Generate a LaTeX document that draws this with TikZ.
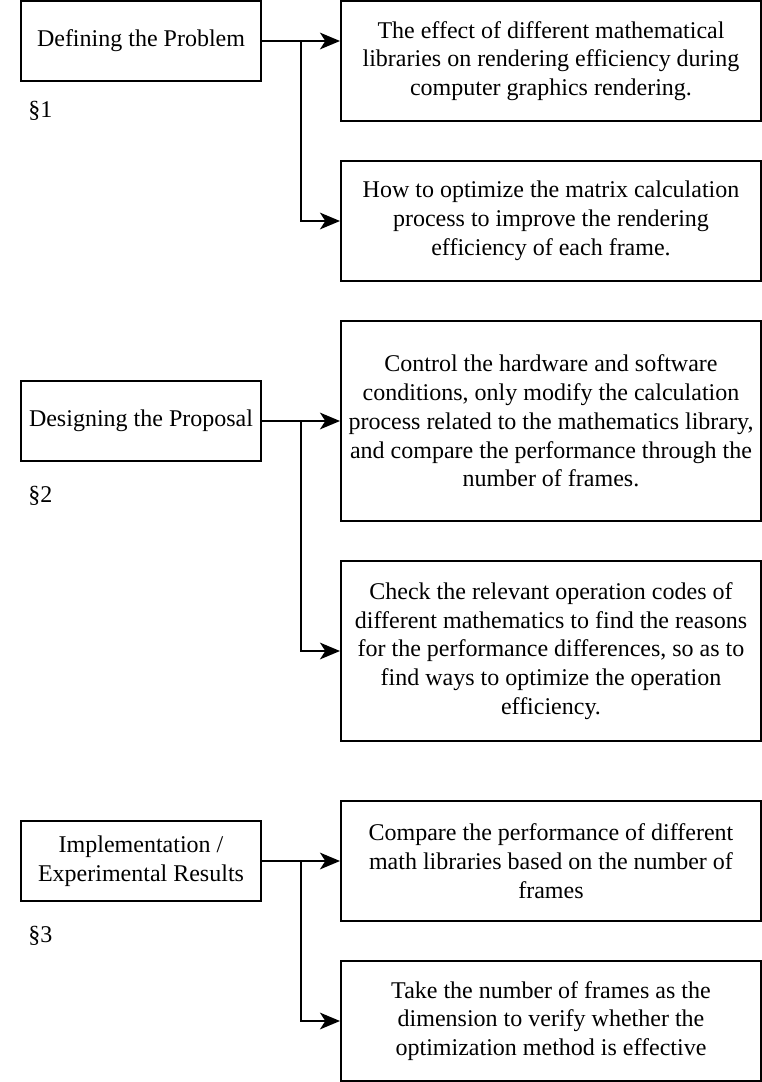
\documentclass[tikz,border=0pt]{standalone}
\usepackage{fontspec}
\setmainfont{Liberation Serif}
\usetikzlibrary{arrows.meta}

\tikzset{
  leftbox/.style={draw, line width=1.5pt, minimum width=180pt, minimum height=60pt, align=center, inner sep=0.75pt, font=\fontsize{18pt}{21.6pt}\selectfont},
  rightbox/.style={draw, line width=1.5pt, minimum width=315pt, align=center, inner sep=0.75pt, font=\fontsize{18pt}{21.6pt}\selectfont},
  secmark/.style={anchor=base west, inner sep=0pt, font=\fontsize{18pt}{21.6pt}\selectfont},
  arr/.style={line width=1.5pt, -{Stealth[length=15pt, width=12.5pt, inset=4pt]}},
}

\begin{document}
\begin{tikzpicture}[x=0.75pt,y=0.75pt,yscale=-1,xscale=1]
\useasboundingbox (0,0) rectangle (762,1082);

%Shape: Rectangle [id:defining]
\node [leftbox] (def) at (141,41) {Defining the Problem};
%Shape: Rectangle [id:question1]
\node [rightbox, minimum height=90pt] (q1) at (551,61) {The effect of different mathematical\\libraries on rendering efficiency during\\computer graphics rendering.};
%Shape: Rectangle [id:question2]
\node [rightbox, minimum height=90pt] (q2) at (551,221) {How to optimize the matrix calculation\\process to improve the rendering\\efficiency of each frame.};
% Text Node
\node [secmark] (sec1) at (28,117) {\S1};

%Shape: Rectangle [id:designing]
\node [leftbox] (des) at (141,421) {Designing the Proposal};
%Shape: Rectangle [id:proposal1]
\node [rightbox, minimum height=150pt] (p1) at (551,421) {Control the hardware and software\\conditions, only modify the calculation\\process related to the mathematics library,\\and compare the performance through the\\number of frames.};
%Shape: Rectangle [id:proposal2]
\node [rightbox, minimum height=135pt] (p2) at (551,651) {Check the relevant operation codes of\\different mathematics to find the reasons\\for the performance differences, so as to\\find ways to optimize the operation\\efficiency.};
% Text Node
\node [secmark] (sec2) at (28,502) {\S2};

%Shape: Rectangle [id:implementation]
\node [leftbox] (imp) at (141,861) {Implementation /\\Experimental Results};
%Shape: Rectangle [id:result1]
\node [rightbox, minimum height=90pt] (r1) at (551,861) {Compare the performance of different\\math libraries based on the number of\\frames};
%Shape: Rectangle [id:result2]
\node [rightbox, minimum height=90pt] (r2) at (551,1021) {Take the number of frames as the\\dimension to verify whether the\\optimization method is effective};
% Text Node
\node [secmark] (sec3) at (28,942) {\S3};

%Straight Lines [id:branches]
\coordinate (defsplit) at (301,41);
\coordinate (dessplit) at (301,421);
\coordinate (impsplit) at (301,861);

\draw [arr] (def.east) -- (q1.west |- def.east);
\draw [arr] (defsplit) |- (q2.west);
\draw [arr] (des.east) -- (p1.west);
\draw [arr] (dessplit) |- (p2.west);
\draw [arr] (imp.east) -- (r1.west);
\draw [arr] (impsplit) |- (r2.west);

\end{tikzpicture}
\end{document}
